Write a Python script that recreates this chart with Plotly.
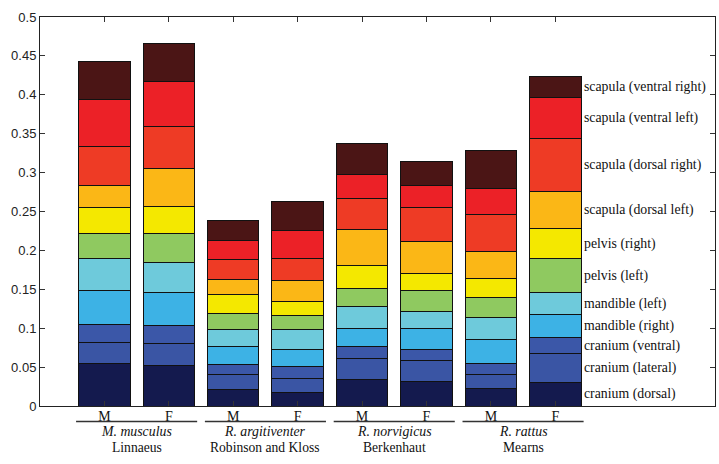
import plotly.graph_objects as go

# Bar positions and their sex labels
positions = [1, 2, 3, 4, 5, 6, 7, 8]
sex_labels = ["M", "F", "M", "F", "M", "F", "M", "F"]

# Species groups (italic name, authority) centred between each M/F pair
species = ["M. musculus", "R. argitiventer", "R. norvigicus", "R. rattus"]
authors = ["Linnaeus", "Robinson and Kloss", "Berkenhaut", "Mearns"]
group_centres = [1.5, 3.5, 5.5, 7.5]

# Stack segments, bottom to top
segments = [
    "cranium (dorsal)", "cranium (lateral)", "cranium (ventral)",
    "mandible (right)", "mandible (left)", "pelvis (left)", "pelvis (right)",
    "scapula (dorsal left)", "scapula (dorsal right)",
    "scapula (ventral left)", "scapula (ventral right)",
]

cranium_dorsal = [0.054, 0.052, 0.021, 0.018, 0.034, 0.032, 0.023, 0.030]
cranium_lateral = [0.028, 0.028, 0.019, 0.017, 0.027, 0.026, 0.017, 0.037]
cranium_ventral = [0.023, 0.023, 0.013, 0.016, 0.015, 0.014, 0.014, 0.021]
mandible_right = [0.043, 0.043, 0.023, 0.021, 0.023, 0.027, 0.031, 0.029]
mandible_left = [0.042, 0.039, 0.022, 0.026, 0.029, 0.023, 0.029, 0.029]
pelvis_left = [0.032, 0.037, 0.021, 0.018, 0.023, 0.027, 0.026, 0.043]
pelvis_right = [0.033, 0.034, 0.024, 0.018, 0.029, 0.021, 0.024, 0.039]
scapula_dorsal_left = [0.029, 0.049, 0.019, 0.027, 0.047, 0.041, 0.034, 0.048]
scapula_dorsal_right = [0.050, 0.054, 0.026, 0.029, 0.040, 0.044, 0.048, 0.068]
scapula_ventral_left = [0.060, 0.058, 0.025, 0.035, 0.031, 0.028, 0.034, 0.053]
scapula_ventral_right = [0.049, 0.049, 0.026, 0.038, 0.039, 0.031, 0.048, 0.026]

series = [
    cranium_dorsal, cranium_lateral, cranium_ventral, mandible_right,
    mandible_left, pelvis_left, pelvis_right, scapula_dorsal_left,
    scapula_dorsal_right, scapula_ventral_left, scapula_ventral_right,
]

colors = [
    "#141a4e", "#3a55a4", "#3b57a8", "#3db2e5", "#6ecadb", "#8fc960",
    "#f4e800", "#fbb716", "#ee3b25", "#ec2127", "#4b1515",
]

y_ticks = [0, 0.05, 0.1, 0.15, 0.2, 0.25, 0.3, 0.35, 0.4, 0.45, 0.5]
y_tick_text = ["0", "0.05", "0.1", "0.15", "0.2", "0.25", "0.3", "0.35", "0.4", "0.45", "0.5"]

serif = "Liberation Serif, Times New Roman, serif"

fig = go.Figure()
for name, vals, col in zip(segments, series, colors):
    fig.add_trace(go.Bar(
        x=positions, y=vals, name=name, width=0.8,
        marker=dict(color=col, line=dict(color="#111111", width=1)),
        showlegend=False,
    ))

# Segment labels beside the last bar, centred on each of its segments
base = 0.0
for name, vals in zip(segments, series):
    v = vals[-1]
    fig.add_annotation(
        x=positions[-1] + 0.4, y=base + v / 2, xref="x", yref="y",
        text=name, showarrow=False, xanchor="left", yanchor="middle",
        xshift=1, font=dict(family=serif, size=13.8, color="#111111"),
    )
    base += v

# Group underlines and species / authority labels
for c, sp, au in zip(group_centres, species, authors):
    fig.add_shape(
        type="line", xref="x", yref="paper",
        x0=c - 0.94, x1=c + 0.94, y0=-0.040, y1=-0.040,
        line=dict(color="#333333", width=1.5),
    )
    fig.add_annotation(
        x=c, y=-0.0656, xref="x", yref="paper", text=f"<i>{sp}</i>",
        showarrow=False, yanchor="middle", borderpad=0,
        font=dict(family=serif, size=13.8, color="#111111"),
    )
    fig.add_annotation(
        x=c, y=-0.1067, xref="x", yref="paper", text=au,
        showarrow=False, yanchor="middle", borderpad=0,
        font=dict(family=serif, size=13.6, color="#111111"),
    )

fig.update_layout(
    barmode="stack",
    width=719, height=464,
    margin=dict(l=40, r=4, t=17, b=58),
    plot_bgcolor="white", paper_bgcolor="white",
    xaxis=dict(
        range=[0, 10.48], tickmode="array", tickvals=positions,
        ticktext=sex_labels, ticks="inside", ticklen=5, tickcolor="#333333",
        showline=True, linecolor="#222222", linewidth=1, mirror="ticks",
        showgrid=False, zeroline=False, ticklabelstandoff=-3,
        tickfont=dict(family=serif, size=14, color="#111111"),
    ),
    yaxis=dict(
        range=[0, 0.5], tickmode="array", tickvals=y_ticks,
        ticktext=y_tick_text, ticks="inside", ticklen=5, tickcolor="#333333",
        showline=True, linecolor="#222222", linewidth=1, mirror="ticks",
        showgrid=False, zeroline=False,
        tickfont=dict(family="Liberation Sans, Arial, sans-serif", size=13, color="#222222"),
    ),
)

fig.write_html("out.html")
